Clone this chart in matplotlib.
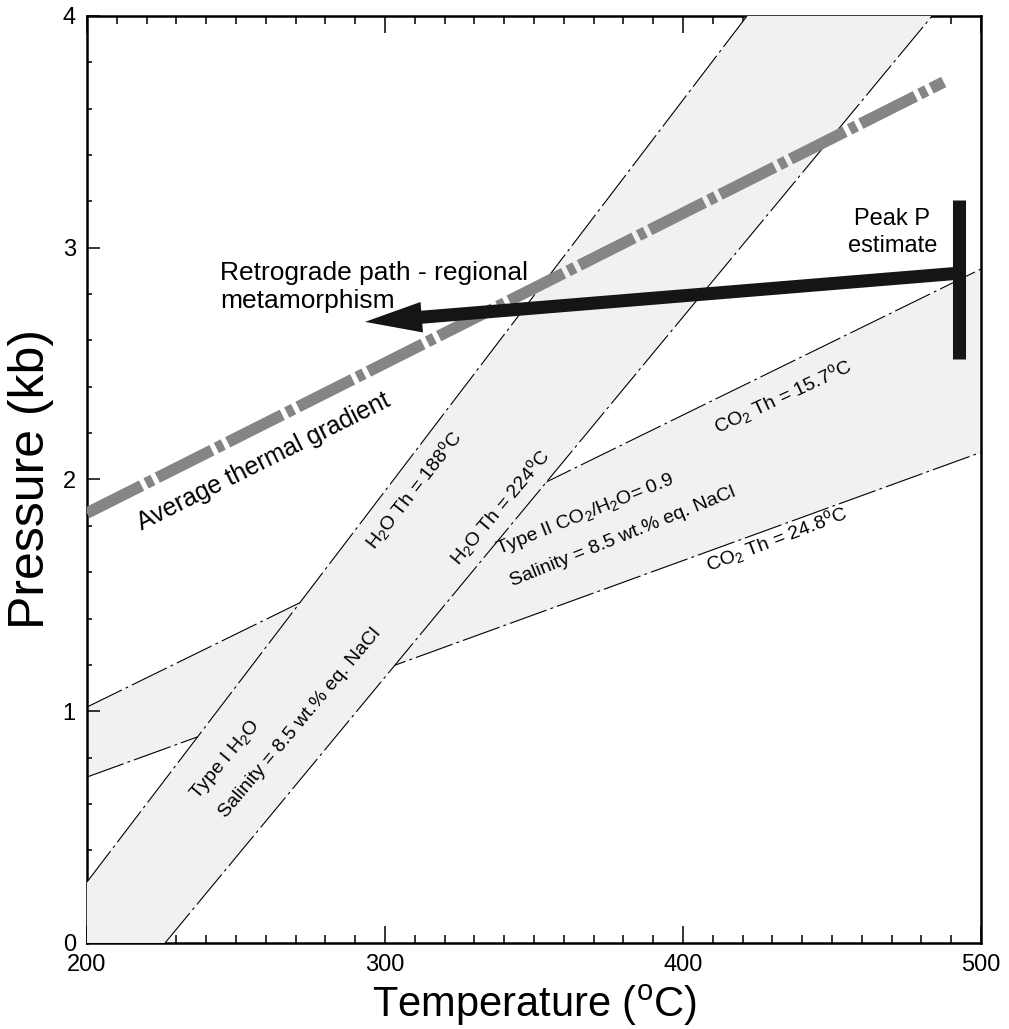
import matplotlib
matplotlib.use("Agg")
import matplotlib.pyplot as plt
from matplotlib.ticker import MultipleLocator

plt.rcParams["font.family"] = ["Liberation Sans", "DejaVu Sans"]
plt.rcParams["mathtext.fontset"] = "custom"
plt.rcParams["mathtext.rm"] = "Liberation Sans"
plt.rcParams["lines.scale_dashes"] = False

# isochores (temperature degC, pressure kb)
h2o_188_T = [200, 421.5]
h2o_188_P = [0.263, 4.0]
h2o_224_T = [226.2, 483.6]
h2o_224_P = [0.0, 4.0]

co2_157_T = [200, 500]
co2_157_P = [1.018, 2.908]
co2_248_T = [200, 500]
co2_248_P = [0.716, 2.117]

# average thermal gradient
grad_T = [200, 487.5]
grad_P = [1.855, 3.715]

# retrograde path arrow (start, end) and peak P bar
retro_T = [492.5, 293.3]
retro_P = [2.89, 2.68]
peak_T = [492.5, 492.5]
peak_P = [2.52, 3.206]

FILL = "#f0f1f0"
THIN = dict(color="black", lw=0.8, dashes=(28, 3, 2, 3))
SUB2 = r"$\mathregular{_2}$"
DEG = r"$\mathregular{^o}$"

fig = plt.figure(figsize=(10.09, 10.29), dpi=100)
ax = fig.add_axes([0.0862, 0.0836, 0.886, 0.9009])

# type II band (drawn first, partly covered by type I band)
ax.fill_between(co2_157_T, co2_248_P, co2_157_P, color=FILL, lw=0, zorder=1)
ax.plot(co2_157_T, co2_157_P, zorder=2, **THIN)
ax.plot(co2_248_T, co2_248_P, zorder=2, **THIN)

# type I band
poly_T = h2o_188_T + h2o_224_T[::-1] + [h2o_188_T[0]]
poly_P = h2o_188_P + h2o_224_P[::-1] + [h2o_224_P[0]]
ax.fill(poly_T, poly_P, color=FILL, lw=0, zorder=3)
ax.plot(h2o_188_T, h2o_188_P, zorder=4, **THIN)
ax.plot(h2o_224_T, h2o_224_P, zorder=4, **THIN)

ax.plot(grad_T, grad_P, color="#858585", lw=8.3, dashes=(44, 3.6, 5.5, 3.6),
        solid_capstyle="butt", dash_capstyle="butt", zorder=5)

ax.plot(peak_T, peak_P, color="#151515", lw=9.4, solid_capstyle="butt", zorder=7)
ax.annotate("", xy=(retro_T[1], retro_P[1]), xytext=(retro_T[0], retro_P[0]),
            arrowprops=dict(arrowstyle="simple,head_length=4.1,head_width=2.2,tail_width=0.94",
                            mutation_scale=10, color="#151515", lw=0,
                            shrinkA=0, shrinkB=0), zorder=7)

# labels
ax.text(244.6, 2.829, "Retrograde path - regional\nmetamorphism", fontsize=19,
        ha="left", va="center", linespacing=1.2, zorder=6)
ax.text(470.3, 3.066, "Peak P\nestimate", fontsize=17, ha="center", va="center",
        multialignment="center", linespacing=1.3, zorder=6)
ax.text(259.4, 2.076, "Average thermal gradient", fontsize=18, rotation=26.6,
        rotation_mode="anchor", ha="center", va="center", zorder=6)

small = dict(fontsize=14, rotation_mode="anchor", ha="center", va="center", zorder=6)
ax.text(310.0, 1.955, f"H{SUB2}O Th = 188{DEG}C", rotation=52, **small)
ax.text(338.9, 1.881, f"H{SUB2}O Th = 224{DEG}C", rotation=50, **small)
ax.text(246.6, 0.79, f"Type I H{SUB2}O", rotation=50, **small)
ax.text(271.5, 0.949, "Salinity = 8.5 wt.% eq. NaCl", rotation=50, **small)
ax.text(433.6, 2.356, f"CO{SUB2} Th = 15.7{DEG}C", rotation=25, **small)
ax.text(431.5, 1.739, f"CO{SUB2} Th = 24.8{DEG}C", rotation=21, **small)
ax.text(367.1, 1.847, f"Type II CO{SUB2}/H{SUB2}O= 0.9", rotation=22, **small)
ax.text(379.9, 1.752, "Salinity = 8.5 wt.% eq. NaCl", rotation=22, **small)

ax.set_xlim(200, 500)
ax.set_ylim(0, 4)
ax.xaxis.set_major_locator(MultipleLocator(100))
ax.xaxis.set_minor_locator(MultipleLocator(10))
ax.yaxis.set_major_locator(MultipleLocator(1))
ax.yaxis.set_minor_locator(MultipleLocator(0.2))
ax.tick_params(which="both", direction="in", top=True, right=False, width=1.1, labelsize=17)
ax.tick_params(axis="x", which="major", length=12, pad=8)
ax.tick_params(axis="x", which="minor", length=5.8)
ax.tick_params(axis="y", which="major", length=9, pad=8)
ax.tick_params(axis="y", which="minor", length=3.6)
for s in ax.spines.values():
    s.set_linewidth(1.8)

ax.set_xlabel(f"Temperature ({DEG}C)", fontsize=30, labelpad=5)
ax.set_ylabel("Pressure (kb)", fontsize=36, labelpad=6)

fig.savefig("out.png", dpi=100)
